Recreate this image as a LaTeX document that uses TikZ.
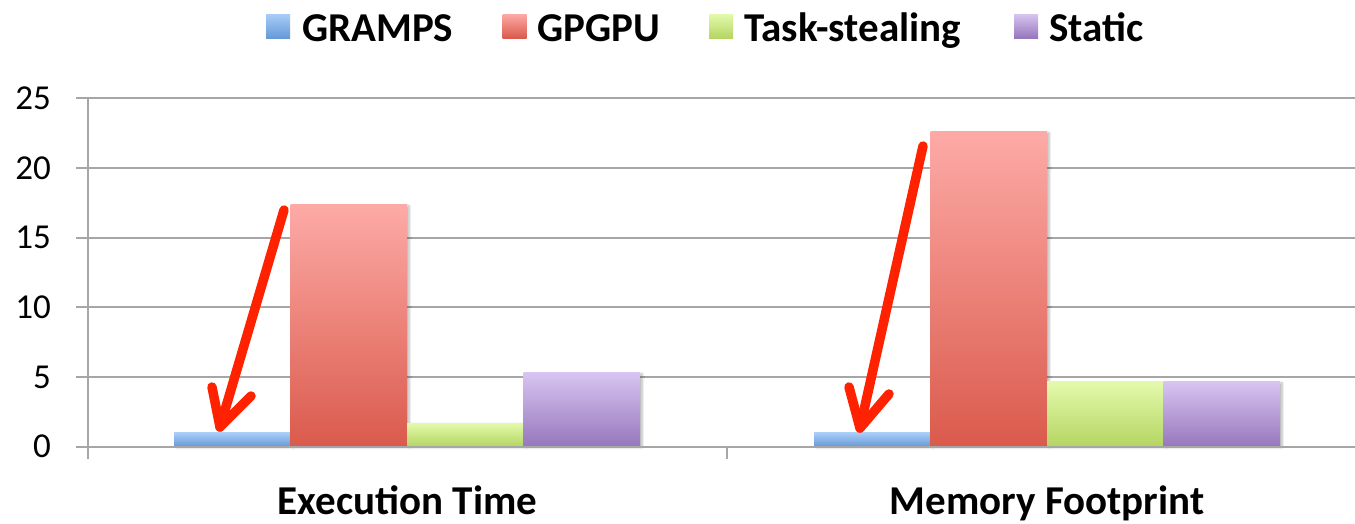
\documentclass[tikz,border=0pt]{standalone}
\usepackage{fontspec}
\setmainfont{Carlito}
\usetikzlibrary{shadows.blur}

\definecolor{gridgray}{HTML}{A6A6A6}
\definecolor{arrowred}{HTML}{FF2200}
\definecolor{grampsT}{HTML}{A9CDF7}
\definecolor{grampsB}{HTML}{6599D8}
\definecolor{gpgpuT}{HTML}{FDAAA6}
\definecolor{gpgpuB}{HTML}{DA5A4C}
\definecolor{taskT}{HTML}{E3FAAC}
\definecolor{taskB}{HTML}{B4D562}
\definecolor{staticT}{HTML}{D7C4F1}
\definecolor{staticB}{HTML}{9677BC}

\tikzset{
  barbase/.style={inner sep=0pt, outer sep=0pt, draw=none, anchor=south west,
    minimum width=116.5pt,
    blur shadow={shadow xshift=2.5pt, shadow yshift=-1pt, shadow opacity=25,
      shadow blur steps=6, shadow blur radius=2pt}},
  gramps/.style={barbase, top color=grampsT, bottom color=grampsB},
  gpgpu/.style={barbase, top color=gpgpuT, bottom color=gpgpuB},
  task/.style={barbase, top color=taskT, bottom color=taskB},
  static/.style={barbase, top color=staticT, bottom color=staticB},
  swatch/.style={inner sep=0pt, outer sep=0pt, minimum size=24pt, draw=none},
  legendtext/.style={anchor=base west, inner sep=0pt, font=\fontsize{41}{48}\selectfont\bfseries},
  ticklabel/.style={anchor=east, inner sep=0pt, font=\fontsize{35}{42}\selectfont},
  catlabel/.style={anchor=base, inner sep=0pt, font=\fontsize{41}{48}\selectfont\bfseries},
  gridline/.style={draw=gridgray, line width=2pt},
  pointer/.style={draw=arrowred, line width=9.5pt, line cap=round, line join=round},
}

% bar of a given value: name, style, left x, value
\newcommand{\chartbar}[4]{%
  \node[#2, minimum height=#4*13.94pt] (#1) at (#3,446.7) {};}

\begin{document}
\begin{tikzpicture}[x=1pt, y=-1pt]
  \useasboundingbox (0,0) rectangle (1355,523);

  % horizontal gridlines and value labels
  \foreach \v in {5,10,15,20,25} {
    \draw[gridline] (76,{446.7-\v*13.94}) -- (1355,{446.7-\v*13.94});
  }
  \foreach \v/\nm in {0/t0,5/t5,10/t10,15/t15,20/t20,25/t25} {
    \node[ticklabel] (\nm) at (51,{446.7-\v*13.94}) {\v};
  }

  % bars: Execution Time
  \chartbar{g1}{gramps}{174}{1.0}
  \chartbar{p1}{gpgpu}{290.5}{17.35}
  \chartbar{k1}{task}{407}{1.7}
  \chartbar{s1}{static}{523.5}{5.3}
  % bars: Memory Footprint
  \chartbar{g2}{gramps}{814}{1.0}
  \chartbar{p2}{gpgpu}{930.5}{22.6}
  \chartbar{k2}{task}{1047}{4.65}
  \chartbar{s2}{static}{1163.5}{4.65}

  % axes
  \draw[gridline] (88,98) -- (88,459);
  \draw[gridline] (76,446.7) -- (1355,446.7);
  \draw[gridline] (727,446.7) -- (727,459);

  % category labels
  \node[catlabel] (c1) at (407.5,514) {Execution Time};
  \node[catlabel] (c2) at (1047,514) {Memory Footprint};

  % legend
  \node[swatch, top color=grampsT, bottom color=grampsB] (lg1) at (278,26) {};
  \node[legendtext] (lt1) at (302,41.5) {GRAMPS};
  \node[swatch, top color=gpgpuT, bottom color=gpgpuB] (lg2) at (514.5,26) {};
  \node[legendtext] (lt2) at (537,41.5) {GPGPU};
  \node[swatch, top color=taskT, bottom color=taskB] (lg3) at (721,26) {};
  \node[legendtext] (lt3) at (744,41.5) {Task-stealing};
  \node[swatch, top color=staticT, bottom color=staticB] (lg4) at (1026,26) {};
  \node[legendtext] (lt4) at (1049,41.5) {Static};

  % red pointers onto the GRAMPS bars
  \coordinate (a1s) at (284,210);
  \coordinate (a1t) at (220,427);
  \coordinate (a1l) at (212,387);
  \coordinate (a1r) at (251,396);
  \draw[pointer] (a1s) -- (a1t);
  \draw[pointer] (a1l) -- (a1t) -- (a1r);

  \coordinate (a2s) at (923,146);
  \coordinate (a2t) at (860,428);
  \coordinate (a2l) at (849,387);
  \coordinate (a2r) at (889,394);
  \draw[pointer] (a2s) -- (a2t);
  \draw[pointer] (a2l) -- (a2t) -- (a2r);
\end{tikzpicture}
\end{document}
